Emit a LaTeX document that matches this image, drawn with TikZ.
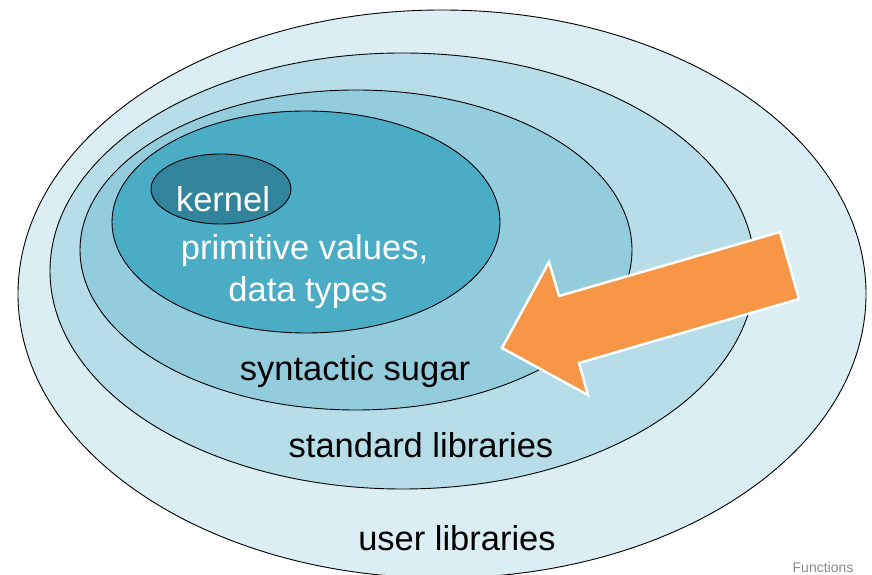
\documentclass[tikz,border=0pt]{standalone}
\usepackage{fontspec}
\setmainfont{Liberation Sans}
\definecolor{cUser}{HTML}{DAEEF3}
\definecolor{cStd}{HTML}{B7DDE8}
\definecolor{cSugar}{HTML}{93CDDD}
\definecolor{cPrim}{HTML}{4BACC6}
\definecolor{cKernel}{HTML}{31849B}
\definecolor{cArrow}{HTML}{F79646}
\definecolor{cNote}{HTML}{8C8C8C}
\begin{document}
\begin{tikzpicture}[x=1pt,y=1pt,
  layer/.style={draw=black,line width=0.9pt},
  lbl/.style={anchor=base,inner sep=0pt,font=\fontsize{34.5}{40}\selectfont},
  wlbl/.style={lbl,text=white}]
\useasboundingbox (0,0) rectangle (872,575);
\fill[white] (0,0) rectangle (872,575);
\begin{scope}
\clip (0,0) rectangle (872,575);
\filldraw[layer,fill=cUser] (442,281) ellipse [x radius=424,y radius=284];
\filldraw[layer,fill=cStd] (402.5,304) ellipse [x radius=352.5,y radius=218];
\filldraw[layer,fill=cSugar] (356,325) ellipse [x radius=276,y radius=160];
\filldraw[layer,fill=cPrim] (306,353) ellipse [x radius=194,y radius=111];
\filldraw[layer,fill=cKernel] (221,386) ellipse [x radius=70,y radius=35];
\end{scope}
\node[wlbl] (kernel) at (223,363) {kernel};
\node[wlbl] (prim) at (304.5,315) {primitive values,};
\node[wlbl] (types) at (308,273) {data types};
\node[lbl] (sugar) at (355,194) {syntactic sugar};
\node[lbl] (std) at (421,117) {standard libraries};
\node[lbl] (user) at (457,24) {user libraries};
\node[anchor=base,inner sep=0pt,text=cNote,font=\fontsize{14}{16}\selectfont] (fn) at (823,2) {Functions};
\filldraw[fill=cArrow,draw=white,line width=2.5pt,line join=miter]
  (780,343) -- (799,276) -- (579,212) -- (588,180) -- (502,227) -- (549,313) -- (559,279) -- cycle;
\end{tikzpicture}
\end{document}
